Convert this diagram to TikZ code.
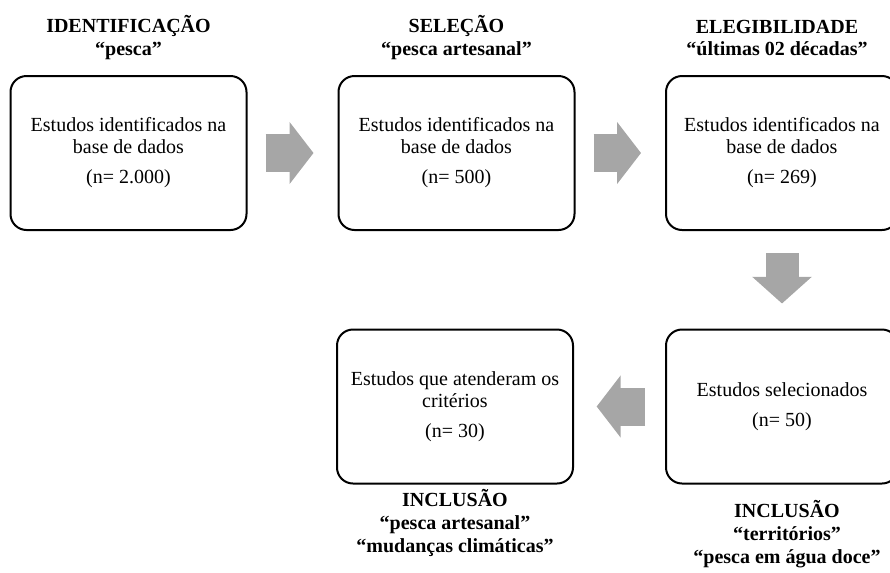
\documentclass[tikz,border=0pt]{standalone}
\usepackage{fontspec}
\setmainfont{Liberation Serif}
\usetikzlibrary{arrows.meta}
\definecolor{cinzaseta}{RGB}{166,166,166}
\begin{document}
\begin{tikzpicture}[x=0.75pt,y=-0.75pt,
    etapa/.style={draw, line width=1.5pt, rounded corners=12pt, minimum width=177pt,
        minimum height=115.5pt, align=center, inner sep=0pt,
        font=\fontsize{15}{16.5}\selectfont},
    titulo/.style={align=center, inner sep=0pt, font=\bfseries\fontsize{15}{17.2}\selectfont},
    seta/.style={draw=cinzaseta, line width=28.5pt,
        -{Triangle[width=45.75pt,length=18pt]}, color=cinzaseta}]
\clip (0,0) rectangle (890,572);

% caixas de cima
\node (ident) at (128.5,153) [etapa] {Estudos identificados na\\base de dados\\[6pt](n= 2.000)};
\node (selec) at (456.5,153) [etapa] {Estudos identificados na\\base de dados\\[6pt](n= 500)};
\node (eleg) at (782,153) [etapa, minimum width=174pt] {Estudos identificados na\\base de dados\\[6pt](n= 269)};

% caixas de baixo
\node (selecionados) at (782,406.5) [etapa, minimum width=174pt] {Estudos selecionados\\[6pt](n= 50)};
\node (final) at (455,406.5) [etapa] {Estudos que atenderam os\\critérios\\[6pt](n= 30)};

% titulos
\node (tident) at (128.5,38) [titulo] {IDENTIFICAÇÃO\\“pesca”};
\node (tselec) at (456.5,38) [titulo] {SELEÇÃO\\“pesca artesanal”};
\node (teleg) at (777,38) [titulo] {ELEGIBILIDADE\\“últimas 02 décadas”};
\node (tfinal) at (455,523) [titulo] {INCLUSÃO\\“pesca artesanal”\\“mudanças climáticas”};
\node (tselecionados) at (787,534) [titulo] {INCLUSÃO\\“territórios”\\“pesca em água doce”};

% setas
\foreach \a/\b in {ident/selec, selec/eleg}
{
    \draw[seta, shorten <=13.5pt, shorten >=18pt] (\a) -- (\b);
}
\draw[seta, line width=24.75pt, -{Triangle[width=43.5pt,length=20pt]},
    shorten <=16.5pt, shorten >=18.75pt] (eleg) -- (selecionados);
\draw[seta, shorten <=15pt, shorten >=17pt] (selecionados) -- (final);
\end{tikzpicture}
\end{document}
